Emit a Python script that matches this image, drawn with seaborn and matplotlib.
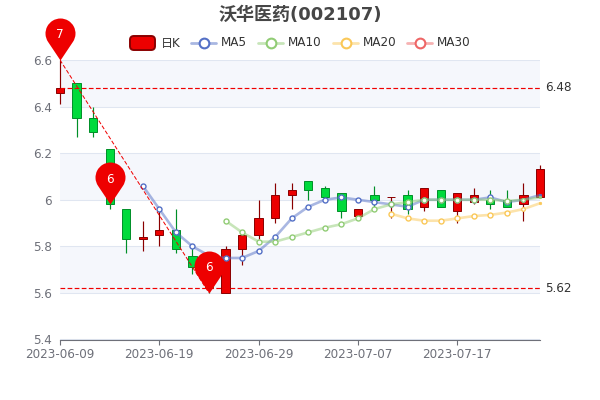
import numpy as np
import pandas as pd
import matplotlib
matplotlib.use("Agg")
import matplotlib.pyplot as plt
from matplotlib.path import Path
from matplotlib.lines import Line2D
from matplotlib.patches import FancyBboxPatch
import seaborn as sns

dates = ["2023-06-09","2023-06-12","2023-06-13","2023-06-14","2023-06-15","2023-06-16",
         "2023-06-19","2023-06-20","2023-06-21","2023-06-26","2023-06-27","2023-06-28",
         "2023-06-29","2023-06-30","2023-07-03","2023-07-04","2023-07-05","2023-07-06",
         "2023-07-07","2023-07-10","2023-07-11","2023-07-12","2023-07-13","2023-07-14",
         "2023-07-17","2023-07-18","2023-07-19","2023-07-20","2023-07-21","2023-07-24"]
opens  = [6.46,6.50,6.35,6.22,5.96,5.83,5.85,5.87,5.76,5.64,5.60,5.79,5.85,5.92,6.02,
          6.08,6.05,6.03,5.93,6.02,6.01,6.02,5.97,6.04,5.95,5.99,6.00,6.00,5.98,6.01]
closes = [6.48,6.35,6.29,5.98,5.83,5.84,5.87,5.79,5.71,5.62,5.79,5.85,5.92,6.02,6.04,
          6.04,6.01,5.95,5.96,6.00,6.01,5.96,6.05,5.97,6.03,6.02,5.98,5.97,6.02,6.13]
lows   = [6.41,6.27,6.27,5.96,5.77,5.78,5.80,5.77,5.68,5.60,5.60,5.72,5.83,5.90,5.96,
          6.00,6.01,5.92,5.93,5.97,5.92,5.94,5.95,5.97,5.90,5.98,5.96,5.97,5.91,6.01]
highs  = [6.60,6.50,6.40,6.22,5.96,5.91,5.95,5.96,5.80,5.71,5.80,5.85,6.00,6.07,6.07,
          6.08,6.06,6.03,5.96,6.06,6.01,6.04,6.05,6.04,6.03,6.05,6.04,6.04,6.07,6.15]
ma5 = [None]*5 + [6.06,5.96,5.86,5.80,5.76,5.75,5.75,5.78,5.84,5.92,5.97,6.00,6.01,6.00,
                  5.99,5.98,5.97,6.00,6.00,6.00,6.00,6.01,5.99,6.00,6.02]
ma10 = [None]*10 + [5.91,5.86,5.82,5.82,5.84,5.86,5.88,5.895,5.92,5.96,5.98,5.99,6.00,
                    6.00,6.00,6.00,6.00,5.995,6.00,6.01]
ma20 = [None]*20 + [5.94,5.92,5.91,5.91,5.92,5.93,5.935,5.945,5.96,5.985]
tick_idx = [0,6,12,18,24]
y_ticks = [5.4,5.6,5.8,6.0,6.2,6.4,6.6]
y_labels = ["5.4","5.6","5.8","6","6.2","6.4","6.6"]
band_edges = [(6.4,6.6),(6.0,6.2),(5.6,5.8)]
mean_lines = [6.48,5.62]
pin_idx = [0,3,9]
pin_vals = [6.60,5.98,5.60]
pin_text = ["7","6","6"]
series_names = ["MA5","MA10","MA20","MA30"]
series_colors = ["#5470c6","#91cc75","#fac858","#ee6666"]

RED, RED_D, GREEN, GREEN_D = "#ec0000","#8a0000","#00da3c","#008f28"
GREY = "#6e7079"
MARK_RED = "#f00000"

sns.set_theme(style="white")
plt.rcParams["font.family"] = ["DejaVu Sans","Noto Sans CJK SC"]
fig = plt.figure(figsize=(6,4), dpi=100)
ax = fig.add_axes([60/600, 1-339.5/400, 480/600, 279.5/400])
ax.set_xlim(0,29); ax.set_ylim(5.4,6.6)

for lo,hi in band_edges:
    ax.axhspan(lo,hi,color="#f5f7fc",lw=0,zorder=0)
ax.set_yticks(y_ticks); ax.set_yticklabels(y_labels)
ax.grid(axis="y",color="#e0e6f1",lw=0.75); ax.set_axisbelow(True)
ax.set_xticks(tick_idx); ax.set_xticklabels([dates[i] for i in tick_idx])
for s in ["top","right","left"]:
    ax.spines[s].set_visible(False)
ax.spines["bottom"].set_color(GREY); ax.spines["bottom"].set_linewidth(0.8)
ax.tick_params(axis="x",length=3.6,width=0.8,color=GREY,labelcolor=GREY,labelsize=8.64,pad=2.5,bottom=True)
ax.tick_params(axis="y",length=0,labelcolor=GREY,labelsize=8.64,pad=6)

x = np.arange(len(dates))
o,c,l,h = map(np.array,(opens,closes,lows,highs))
up = c>=o
ax.vlines(x,l,h,colors=[RED_D if u else GREEN_D for u in up],lw=0.85,zorder=3,clip_on=False)
ax.bar(x,np.maximum(np.abs(c-o),0.002),bottom=np.minimum(o,c),width=0.5,
       color=[RED if u else GREEN for u in up],
       edgecolor=[RED_D if u else GREEN_D for u in up],lw=0.7,zorder=3.1,clip_on=False)

df = pd.DataFrame({"x":x,"MA5":ma5,"MA10":ma10,"MA20":ma20},dtype=float)
for i,(name,col) in enumerate(zip(series_names[:3],series_colors)):
    sub = df[["x",name]].dropna()
    sns.lineplot(data=sub,x="x",y=name,ax=ax,color=col,lw=1.9,alpha=0.5,zorder=4+i*0.1,
                 legend=False,errorbar=None,clip_on=False)
    # the last two symbols of every series are drawn smaller in the reference
    body, prev, last = sub.iloc[:-2], sub.iloc[-2:-1], sub.iloc[-1:]
    ax.plot(body["x"],body[name],ls="",marker="o",ms=3.6,mfc="white",mec=col,mew=1.0,
            zorder=4.05+i*0.1,clip_on=False)
    ax.plot(prev["x"],prev[name],ls="",marker="o",ms=2.6,mfc="white",mec=col,mew=0.9,
            zorder=4.05+i*0.1,clip_on=False)
    ax.plot(last["x"],last[name],ls="",marker="o",ms=1.8,mfc=col,mec=col,mew=0.5,
            zorder=4.05+i*0.1,clip_on=False)
ax.set_xlabel(""); ax.set_ylabel("")

# mark lines
dash = (0,(4,2))
for v,lab in zip(mean_lines,["6.48","5.62"]):
    ax.axhline(v,color=MARK_RED,lw=0.85,ls=dash,zorder=5)
    ax.annotate(lab,(1,v),xycoords=("axes fraction","data"),xytext=(4,0),textcoords="offset points",
                ha="left",va="center",fontsize=8.64,color="#333333")
ax.plot([pin_idx[0],pin_idx[2]],[pin_vals[0],pin_vals[2]],color=MARK_RED,lw=0.72,ls=dash,zorder=5)

# pins: a circle plus its two tangents to the tip
R=15; Cy=27
sin_a=R/Cy; cos_a=np.sqrt(1-sin_a**2)
tx=Cy*cos_a*sin_a; ty=Cy*cos_a*cos_a
start=np.degrees(np.arctan2(ty-Cy,tx))
arc=Path.arc(start,180-start)
arc_v=arc.vertices*R+np.array([0,Cy])
verts=[(0,0)]+[tuple(v) for v in arc_v]+[(0,0),(0,0)]
codes=[Path.MOVETO,Path.LINETO]+list(arc.codes[1:])+[Path.LINETO,Path.CLOSEPOLY]
pin=Path(verts,codes)
for i,v,t in zip(pin_idx,pin_vals,pin_text):
    ax.plot([i],[v],marker=pin,ms=2*42*72/100,mfc="#ee0000",mec="none",ls="",zorder=6,clip_on=False)
    ax.annotate(t,(i,v),xytext=(0,25*0.72),textcoords="offset points",ha="center",va="center",
                color="white",fontsize=8.64,zorder=7)

# title
fig.text(0.5,1-15/400,"沃华医药(002107)",ha="center",va="center",fontsize=13,fontweight="bold",color="#464646")

# legend
def px(xp,yp): return xp/600,1-yp/400
rect=FancyBboxPatch((130/600,1-50/400),25/600,14/400,boxstyle="round,pad=0,rounding_size=0.0065",
                    transform=fig.transFigure,fc=RED,ec=RED_D,lw=1.4,mutation_aspect=1.5)
fig.add_artist(rect)
fig.text(*px(160.5,43),"日K",ha="left",va="center",fontsize=8.64,color="#333333")
leg_x=[191,258,333,407]
for name,col,xl in zip(series_names,series_colors,leg_x):
    x0,y0=px(xl,43); x1,_=px(xl+25,43); xm,_=px(xl+12.5,43)
    fig.add_artist(Line2D([x0,x1],[y0,y0],color=col,lw=2,alpha=0.5,transform=fig.transFigure))
    fig.add_artist(Line2D([xm],[y0],marker="o",ms=7,mfc="white",mec=col,mew=1.5,ls="",transform=fig.transFigure))
    fig.text(*px(xl+30,43),name,ha="left",va="center",fontsize=8.64,color="#333333")

fig.savefig("out.png",dpi=100)
